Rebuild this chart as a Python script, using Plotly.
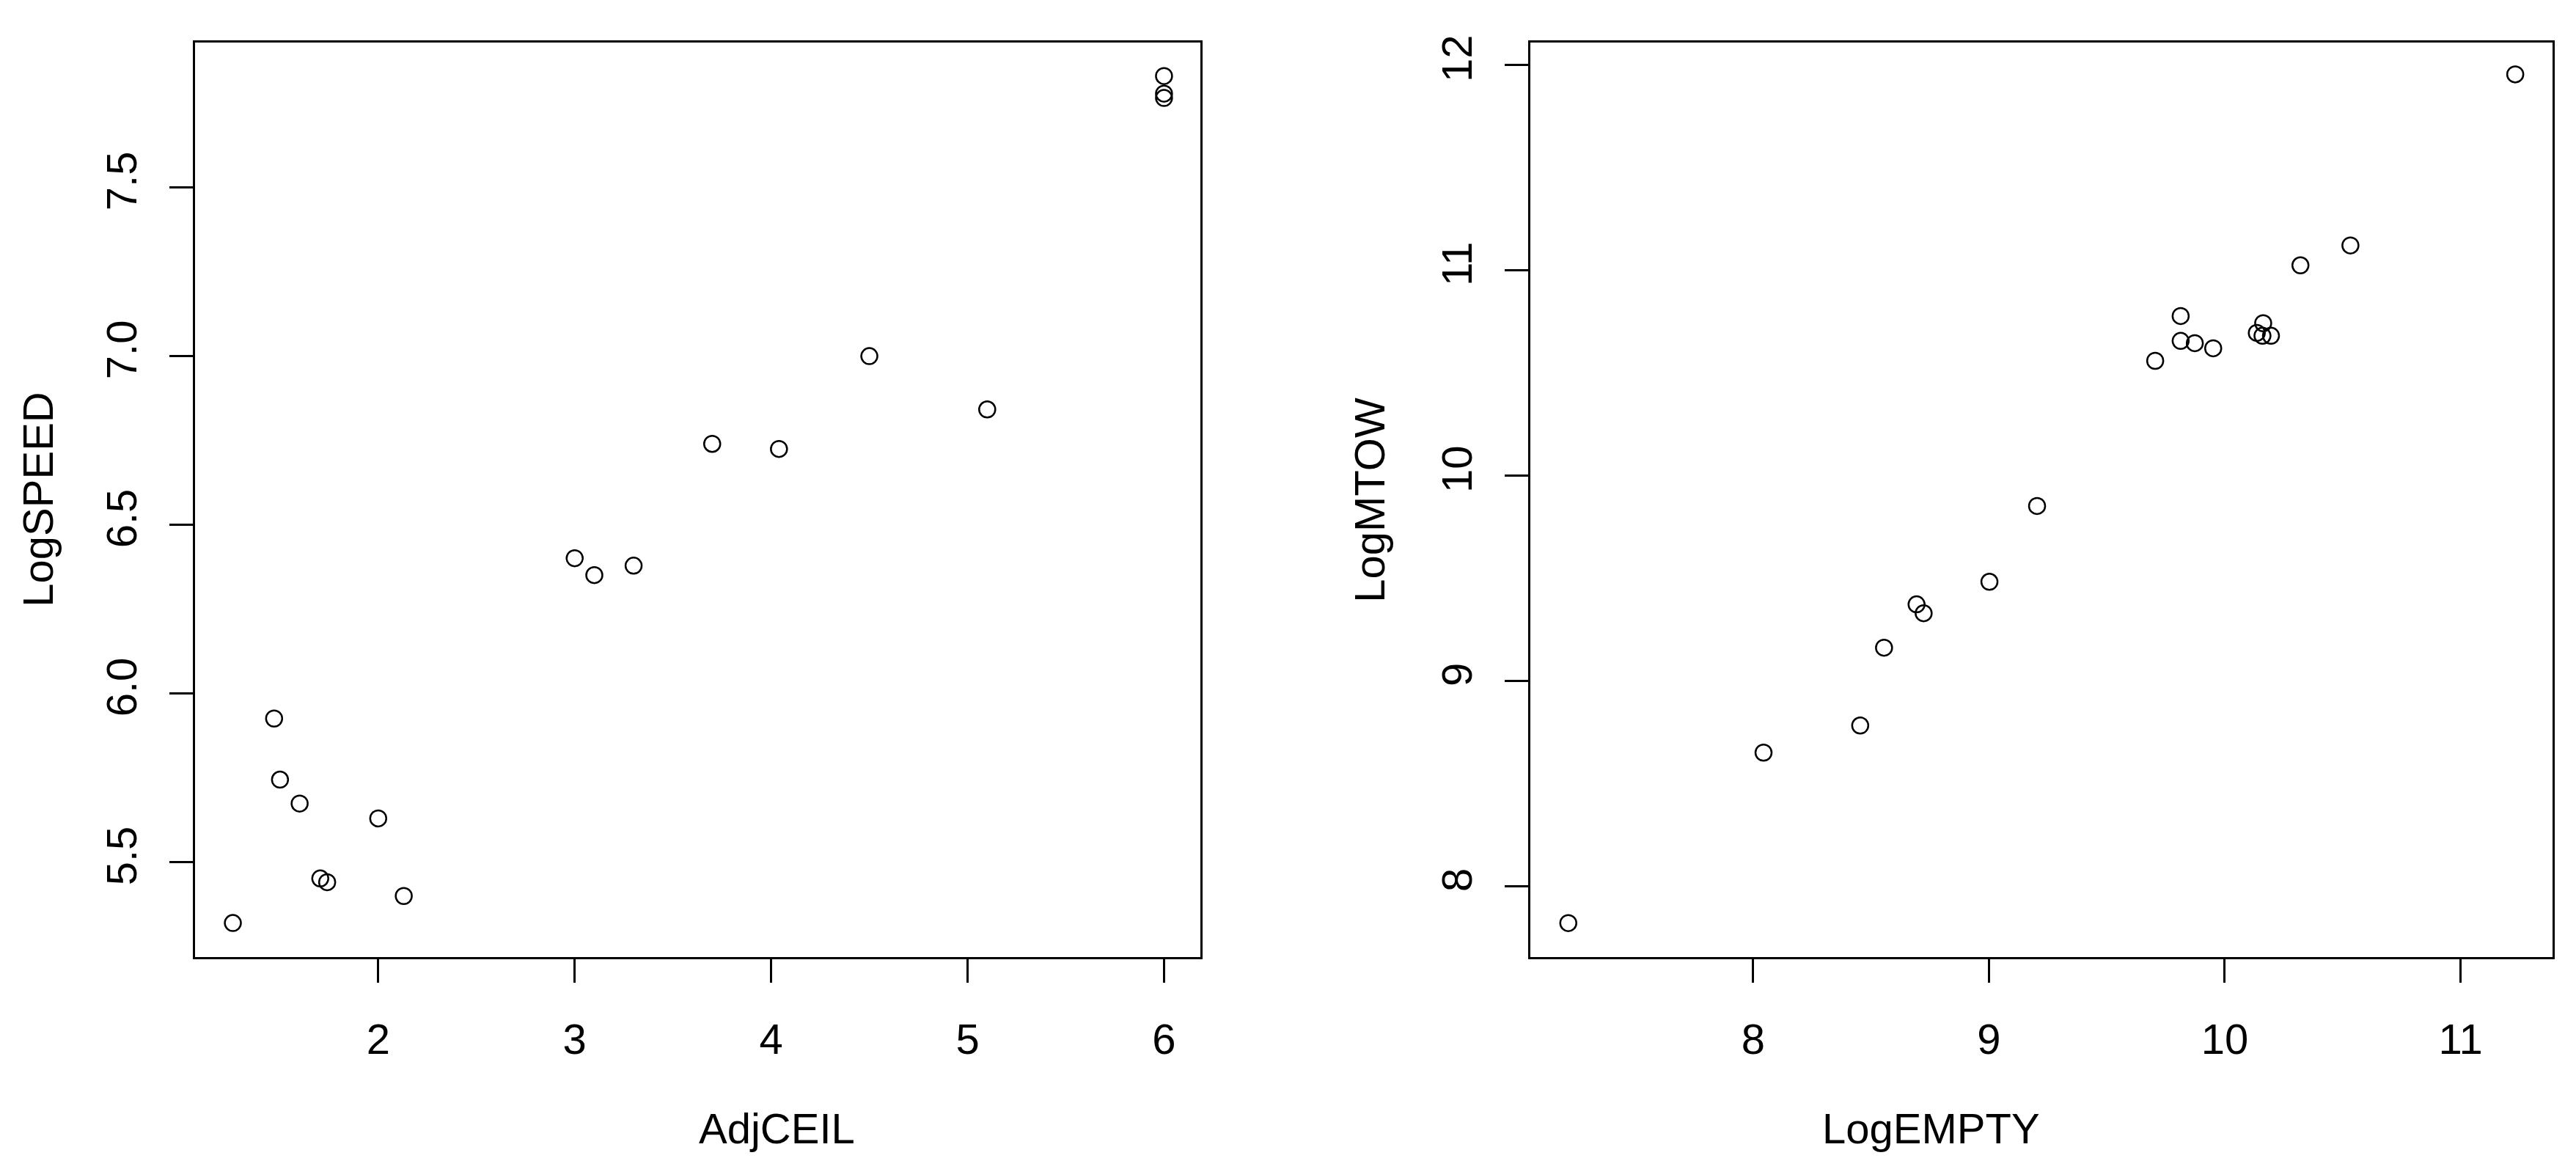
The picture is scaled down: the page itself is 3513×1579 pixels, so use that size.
import plotly.graph_objects as go

adjceil = [1.26, 1.47, 1.50, 1.60, 1.705, 1.74, 2.00, 2.13, 3.00, 3.10, 3.30, 3.70, 4.04, 4.50, 5.10, 6.0, 6.0, 6.0]
logspeed = [5.32, 5.926, 5.745, 5.674, 5.452, 5.441, 5.630, 5.400, 6.401, 6.351, 6.379, 6.740, 6.725, 7.000, 6.842, 7.830, 7.778, 7.765]

logempty = [7.216, 8.044, 8.454, 8.555, 8.693, 8.723, 9.002, 9.204, 9.705, 9.813, 9.813, 9.873, 9.951, 10.136, 10.163, 10.160, 10.196, 10.321, 10.533, 11.232]
logmtow = [7.821, 8.651, 8.783, 9.162, 9.373, 9.330, 9.483, 9.852, 10.559, 10.777, 10.656, 10.645, 10.620, 10.695, 10.742, 10.681, 10.681, 11.024, 11.121, 11.954]

FONT = "Liberation Sans"
mk = dict(symbol="circle-open", size=22, color="black", line=dict(width=2.5, color="black"))

fig = go.Figure()
fig.add_trace(go.Scatter(x=adjceil, y=logspeed, mode="markers", marker=mk, xaxis="x", yaxis="y"))
fig.add_trace(go.Scatter(x=logempty, y=logmtow, mode="markers", marker=mk, xaxis="x2", yaxis="y2"))

ax = dict(showline=True, mirror=True, linecolor="black", linewidth=3, ticks="outside",
          ticklen=32, tickwidth=3, tickcolor="black", showgrid=False, zeroline=False,
          tickfont=dict(family=FONT, size=58, color="black"))
ydom = [0.180, 0.9747]
xd1 = [0.0734, 0.4637]
xd2 = [0.5918, 0.9886]
fig.update_layout(
    width=3513, height=1579, margin=dict(l=0, r=0, t=0, b=0),
    paper_bgcolor="white", plot_bgcolor="white", showlegend=False,
    xaxis=dict(ax, domain=xd1, range=[1.067, 6.185], tickvals=[2, 3, 4, 5, 6],
               anchor="y", ticklabelstandoff=28),
    yaxis=dict(ax, domain=ydom, range=[5.22, 7.93], tickvals=[5.5, 6.0, 6.5, 7.0, 7.5],
               tickformat=".1f", tickangle=-90, anchor="x", ticklabelstandoff=22),
    xaxis2=dict(ax, domain=xd2, range=[7.055, 11.39], tickvals=[8, 9, 10, 11],
                anchor="y2", ticklabelstandoff=28),
    yaxis2=dict(ax, domain=ydom, range=[7.657, 12.11], tickvals=[8, 9, 10, 11, 12],
                tickangle=-90, anchor="x2", ticklabelstandoff=22),
)
tf = dict(family=FONT, size=58, color="black")
ty = 1 - 1530 / 1579
fig.add_annotation(text="AdjCEIL", x=sum(xd1) / 2, y=ty, xref="paper", yref="paper",
                   showarrow=False, font=tf, yanchor="middle")
fig.add_annotation(text="LogEMPTY", x=sum(xd2) / 2, y=ty, xref="paper", yref="paper",
                   showarrow=False, font=tf, yanchor="middle")
fig.add_annotation(text="LogSPEED", x=44 / 3513, y=0.577, xref="paper", yref="paper",
                   showarrow=False, font=tf, textangle=-90, xanchor="center")
fig.add_annotation(text="LogMTOW", x=(1800 + 60) / 3513, y=0.577, xref="paper", yref="paper",
                   showarrow=False, font=tf, textangle=-90, xanchor="center")
fig.write_html("out.html")
